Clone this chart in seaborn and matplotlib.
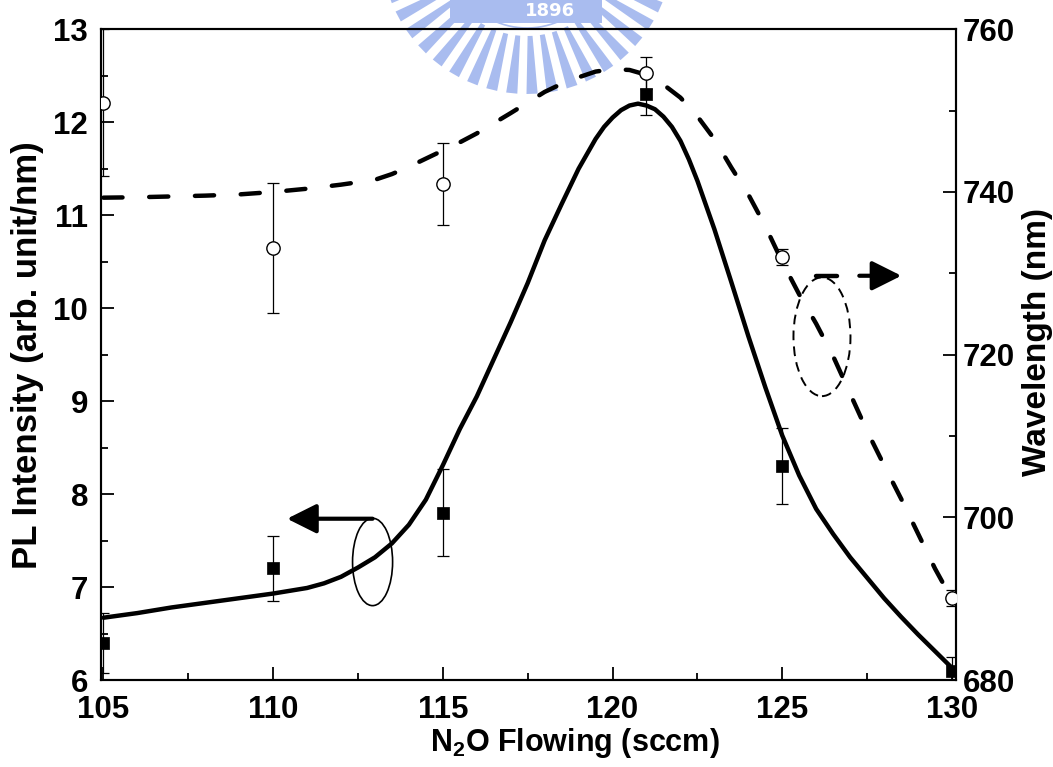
import numpy as np
import matplotlib
matplotlib.use("Agg")
import matplotlib.pyplot as plt
import seaborn as sns
import pandas as pd
from matplotlib.patches import Ellipse, Rectangle, Polygon
from matplotlib.lines import Line2D
from matplotlib.ticker import MultipleLocator

# ---------------- data ----------------
flow = [105, 110, 115, 121, 125, 130]
pl_intensity = [6.40, 7.20, 7.80, 12.30, 8.30, 6.10]
pl_error = [0.32, 0.35, 0.47, 0.22, 0.41, 0.15]
wavelength = [751.0, 733.1, 741.0, 754.6, 732.0, 690.1]
wl_error = [9.0, 8.0, 5.0, 2.0, 1.0, 1.0]

# fitted guide curves
fit_pl_x = [105, 106, 107, 108, 109, 110, 111, 111.5, 112, 112.5, 113, 113.5, 114, 114.5,
            115, 115.5, 116, 116.5, 117, 117.5, 118, 118.5, 119, 119.5, 119.75, 120, 120.25,
            120.5, 120.75, 121, 121.25, 121.5, 121.75, 122, 122.25, 122.5, 123, 123.5, 124,
            124.5, 125, 125.5, 126, 126.5, 127, 127.5, 128, 128.5, 129, 129.5, 130]
fit_pl_y = [6.67, 6.72, 6.78, 6.83, 6.88, 6.93, 6.99, 7.04, 7.11, 7.21, 7.32, 7.47, 7.67, 7.94,
            8.31, 8.70, 9.05, 9.45, 9.85, 10.27, 10.73, 11.12, 11.50, 11.82, 11.95, 12.05, 12.13,
            12.18, 12.20, 12.18, 12.14, 12.06, 11.95, 11.80, 11.60, 11.37, 10.85, 10.28, 9.70,
            9.15, 8.63, 8.20, 7.84, 7.57, 7.32, 7.10, 6.88, 6.68, 6.49, 6.31, 6.13]
fit_wl_x = [105, 106, 107, 108, 109, 110, 111, 112, 113, 113.5, 114, 114.5, 115, 115.5, 116,
            117, 118, 118.5, 119, 119.5, 120, 120.5, 121, 121.5, 122, 122.5, 123, 123.5, 124,
            124.5, 125, 125.5, 126, 126.5, 127, 127.5, 128, 128.5, 129, 129.5, 130]
fit_wl_y = [739.3, 739.35, 739.45, 739.55, 739.7, 740.0, 740.4, 740.9, 741.5, 742.2, 743.1,
            744.1, 745.1, 746.1, 747.2, 749.7, 752.3, 753.3, 754.1, 754.8, 755.1, 755.0, 754.4,
            753.2, 751.6, 749.3, 746.5, 743.0, 739.7, 735.8, 731.4, 727.4, 723.8, 719.8, 715.2,
            710.6, 706.4, 702.3, 698.0, 693.7, 689.9]

x_ticks = [105, 110, 115, 120, 125, 130]
pl_ticks = [6, 7, 8, 9, 10, 11, 12, 13]
wl_ticks = [680, 700, 720, 740, 760]

x_label = "N$_2$O Flowing (sccm)"
pl_label = "PL Intensity (arb. unit/nm)"
wl_label = "Wavelength (nm)"

# ---------------- style ----------------
sns.set_style("ticks")
plt.rcParams["font.family"] = ["Liberation Sans", "DejaVu Sans"]
plt.rcParams["font.weight"] = "bold"
for key in ("text.color", "axes.labelcolor", "xtick.color", "ytick.color", "axes.edgecolor"):
    plt.rcParams[key] = "black"
plt.rcParams["mathtext.fontset"] = "custom"
plt.rcParams["mathtext.rm"] = "Liberation Sans:bold"
plt.rcParams["mathtext.it"] = "Liberation Sans:bold"
plt.rcParams["mathtext.bf"] = "Liberation Sans:bold"
plt.rcParams["mathtext.default"] = "rm"

W, H = 1053, 767
fig = plt.figure(figsize=(W / 100, H / 100), dpi=100, facecolor="white")

# ---------------- faint watermark emblem (behind plot) ----------------
wm_col = "#a9bcef"
cx, cy = 527, -52  # image-pixel coords (y down)
r_in, r_out = 88, 146
for phi in np.arange(-86, 87, 8.0):
    p = np.deg2rad(phi)
    hw_out, hw_in = np.deg2rad(2.2), np.deg2rad(1.6)
    pts = [(cx + r_in * np.sin(p - hw_in), cy + r_in * np.cos(p - hw_in)),
           (cx + r_out * np.sin(p - hw_out), cy + r_out * np.cos(p - hw_out)),
           (cx + r_out * np.sin(p + hw_out), cy + r_out * np.cos(p + hw_out)),
           (cx + r_in * np.sin(p + hw_in), cy + r_in * np.cos(p + hw_in))]
    fig.add_artist(Polygon([(x / W, 1 - y / H) for x, y in pts], closed=True,
                           facecolor=wm_col, edgecolor="none", zorder=-2,
                           transform=fig.transFigure))
th = np.deg2rad(np.linspace(-85, 85, 200))
for rr in (80,):
    fig.add_artist(Line2D((cx + rr * np.sin(th)) / W, 1 - (cy + rr * np.cos(th)) / H,
                          color=wm_col, lw=1.2, zorder=-2, transform=fig.transFigure))
fig.add_artist(Rectangle((450 / W, 1 - 23 / H), 152 / W, 23 / H, transform=fig.transFigure,
                         facecolor=wm_col, edgecolor="none", zorder=-1.5))
fig.text(550 / W, 1 - 11 / H, "1896", color="white", fontsize=13, fontweight="bold",
         family=["DejaVu Sans"], ha="center", va="center", zorder=-1)

# ---------------- axes ----------------
ax = fig.add_axes([100.7 / W, 1 - 680 / H, 855 / W, 650.7 / H])
ax.patch.set_alpha(0)
ax2 = ax.twinx()
ax2.patch.set_alpha(0)

# fitted curves
sns.lineplot(x=fit_pl_x, y=fit_pl_y, ax=ax, color="black", lw=3.2, sort=False,
             solid_capstyle="round", solid_joinstyle="round", zorder=3)
sns.lineplot(x=fit_wl_x, y=fit_wl_y, ax=ax2, color="black", lw=3.2, sort=False,
             linestyle=(0, (4.3, 6.0)), dash_capstyle="round", zorder=3)

# error bars
ax.errorbar(flow, pl_intensity, yerr=pl_error, fmt="none", ecolor="black",
            elinewidth=0.9, capsize=4.3, capthick=0.9, zorder=4)
ax2.errorbar(flow, wavelength, yerr=wl_error, fmt="none", ecolor="black",
             elinewidth=0.9, capsize=4.3, capthick=0.9, zorder=4)

# markers
sns.scatterplot(x=flow, y=pl_intensity, ax=ax, marker="s", s=74, color="black",
                edgecolor="black", linewidth=0.5, zorder=5)
sns.scatterplot(x=flow, y=wavelength, ax=ax2, marker="o", s=92, facecolor="white",
                edgecolor="black", linewidth=1.0, zorder=5)

# annotation: ellipse + arrow to left axis
ax.add_patch(Ellipse((112.93, 7.27), 1.18, 0.94, facecolor="none", edgecolor="black",
                     lw=1.2, zorder=6))
ax.annotate("", xy=(110.41, 7.735), xytext=(112.93, 7.735),
            arrowprops=dict(arrowstyle="-|>,head_length=0.9,head_width=0.45",
                            lw=3, color="black", shrinkA=0, shrinkB=0,
                            mutation_scale=20), zorder=6)

# annotation: dashed ellipse + arrow to right axis
ax2.add_patch(Ellipse((126.17, 722.2), 1.68, 14.6, facecolor="none", edgecolor="black",
                      lw=1.4, linestyle=(0, (5, 3.2)), zorder=6))
ax2.plot([126.0, 126.62], [729.7, 729.7], color="black", lw=3.2,
         solid_capstyle="round", zorder=6)
ax2.annotate("", xy=(128.51, 729.7), xytext=(127.27, 729.7),
             arrowprops=dict(arrowstyle="-|>,head_length=0.9,head_width=0.45",
                             lw=3, color="black", shrinkA=0, shrinkB=0,
                             mutation_scale=20), zorder=6)

# ---------------- scales, ticks, labels ----------------
ax.set_xlim(104.92, 130.11)
ax.set_ylim(6, 13)
ax2.set_ylim(680, 760)

ax.set_xticks(x_ticks)
ax.set_xticklabels([str(v) for v in x_ticks])
ax.set_yticks(pl_ticks)
ax.set_yticklabels([str(v) for v in pl_ticks])
ax2.set_yticks(wl_ticks)
ax2.set_yticklabels([str(v) for v in wl_ticks])
ax.xaxis.set_minor_locator(MultipleLocator(2.5))
ax.yaxis.set_minor_locator(MultipleLocator(0.5))
ax2.yaxis.set_minor_locator(MultipleLocator(10))

for a in (ax, ax2):
    for s in a.spines.values():
        s.set_linewidth(1.5)
        s.set_color("black")
        s.set_visible(True)

ax.tick_params(axis="x", which="major", direction="in", length=9.5, width=1.3,
               labelsize=22.5, pad=10.5, top=False, colors="black")
ax.tick_params(axis="x", which="minor", direction="in", length=5, width=1.3, top=False)
ax.tick_params(axis="y", which="major", direction="in", length=9.5, width=1.3,
               labelsize=22.5, pad=9, right=False, colors="black")
ax.tick_params(axis="y", which="minor", direction="in", length=5, width=1.3, right=False)
ax2.tick_params(axis="y", which="major", direction="in", length=9.5, width=1.3,
                labelsize=22.5, pad=5, left=False, colors="black")
ax2.tick_params(axis="y", which="minor", direction="in", length=5, width=1.3, left=False)
for lab in ax.get_xticklabels() + ax.get_yticklabels() + ax2.get_yticklabels():
    lab.set_fontweight("bold")
    lab.set_color("black")

ax.set_xlabel(x_label, fontsize=22, fontweight="bold", color="black")
ax.set_ylabel(pl_label, fontsize=25, fontweight="bold", color="black")
ax2.set_ylabel(wl_label, fontsize=24, fontweight="bold", rotation=90, color="black")
ax.xaxis.set_label_coords(0.554, -0.071)
ax.yaxis.set_label_coords(-0.066, 0.5)
ax2.yaxis.set_label_coords(1.077, 0.52)

fig.savefig("out.png", dpi=100, facecolor="white")
